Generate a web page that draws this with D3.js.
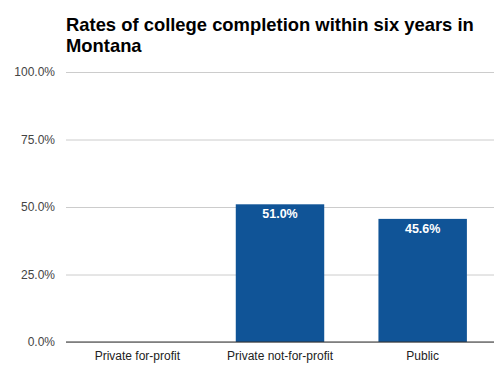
<!DOCTYPE html>
<html>
<head>
<meta charset="utf-8">
<script src="https://cdn.jsdelivr.net/npm/d3@7"></script>
<style>
  body { margin: 0; background: #fff; font-family: Arial, "Liberation Sans", sans-serif; }
</style>
</head>
<body>
<div id="graph"></div>
<script>
var categories = ['Private for-profit', 'Private not-for-profit', 'Public']
var values = [null, 0.510, 0.456]
var yTicks = [0, 0.25, 0.5, 0.75, 1]
var title = ['Rates of college completion within six years in', 'Montana']

var width = 504, height = 375
var margin = {top: 72, left: 66, right: 10, bottom: 33}

var svg = d3.select('#graph').append('svg')
  .attr('width', width).attr('height', height)

var x = d3.scaleBand()
  .domain(categories)
  .range([margin.left, width - margin.right])
  .paddingInner(0.38)
  .paddingOuter(0.19)

var y = d3.scaleLinear()
  .domain([0, 1])
  .range([height - margin.bottom, margin.top])

// title
svg.append('g').selectAll('text')
  .data(title).join('text')
  .attr('x', margin.left)
  .attr('y', (d, i) => 31 + i * 21)
  .attr('font-size', 18.4)
  .attr('font-weight', 'bold')
  .attr('fill', '#000')
  .text(d => d)

// gridlines + y labels
var yAxis = d3.axisLeft(y)
  .tickValues(yTicks)
  .tickFormat(d3.format('.1%'))
  .tickSize(-(width - margin.left - margin.right))
  .tickPadding(11)

svg.append('g')
  .attr('transform', `translate(${margin.left},0)`)
  .call(yAxis)
  .call(g => g.select('.domain').remove())
  .call(g => g.selectAll('.tick line').attr('stroke', '#ccc'))
  .call(g => g.selectAll('.tick text')
    .attr('font-size', 12).attr('fill', '#444')
    .attr('font-family', 'Arial, "Liberation Sans", sans-serif'))

// bars
var barData = categories.map((c, i) => ({c, v: values[i]})).filter(d => d.v != null)

svg.append('g').selectAll('rect')
  .data(barData).join('rect')
  .attr('x', d => x(d.c))
  .attr('width', x.bandwidth())
  .attr('y', d => y(d.v))
  .attr('height', d => y(0) - y(d.v))
  .attr('fill', '#105497')

svg.append('g').selectAll('text')
  .data(barData).join('text')
  .attr('x', d => x(d.c) + x.bandwidth() / 2)
  .attr('y', d => y(d.v) + 14)
  .attr('text-anchor', 'middle')
  .attr('font-size', 12.5)
  .attr('font-weight', 'bold')
  .attr('fill', '#fff')
  .text(d => d3.format('.1%')(d.v))

// x axis
var xAxis = d3.axisBottom(x).tickSize(0).tickPadding(9)
svg.append('g')
  .attr('transform', `translate(0,${y(0)})`)
  .call(xAxis)
  .call(g => g.select('.domain').attr('stroke', '#333').attr('d', `M${margin.left},0H${width - margin.right}`))
  .call(g => g.selectAll('.tick text')
    .attr('font-size', 12).attr('fill', '#222')
    .attr('font-family', 'Arial, "Liberation Sans", sans-serif'))
</script>
</body>
</html>
